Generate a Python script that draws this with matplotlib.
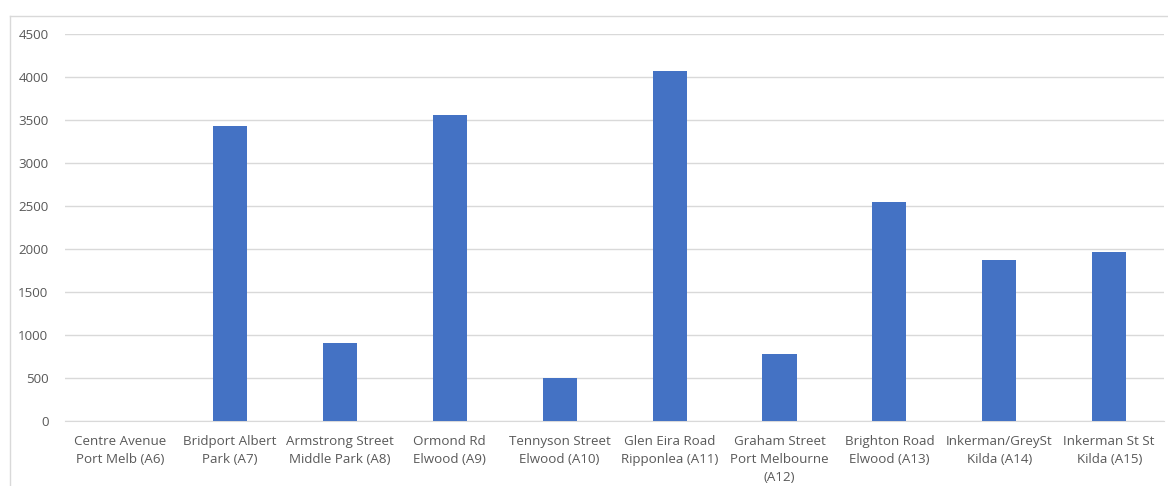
import matplotlib.pyplot as plt
from matplotlib.lines import Line2D

sites = [
    "Centre Avenue\nPort Melb (A6)",
    "Bridport Albert\nPark (A7)",
    "Armstrong Street\nMiddle Park (A8)",
    "Ormond Rd\nElwood (A9)",
    "Tennyson Street\nElwood (A10)",
    "Glen Eira Road\nRipponlea (A11)",
    "Graham Street\nPort Melbourne\n(A12)",
    "Brighton Road\nElwood (A13)",
    "Inkerman/GreySt\nKilda (A14)",
    "Inkerman St St\nKilda (A15)",
]
counts = [0, 3435, 905, 3560, 500, 4070, 780, 2545, 1870, 1965]
yticks = list(range(0, 4501, 500))

plt.rcParams["font.family"] = ["Open Sans", "DejaVu Sans"]
fig = plt.figure(figsize=(11.68, 4.86), dpi=100)
ax = fig.add_axes([0.0557, 0.134, 0.941, 0.796])

x = range(len(sites))
ax.bar(x, counts, width=0.31, color="#4472C4", zorder=3)
ax.set_xlim(-0.5, len(sites) - 0.5)
ax.set_ylim(0, 4500)
ax.set_yticks(yticks)
ax.set_xticks(list(x))
ax.set_xticklabels(sites, fontsize=9.6, color="#595959", linespacing=1.5)
ax.tick_params(axis="y", labelsize=9.6, labelcolor="#595959", length=0, pad=12)
ax.tick_params(axis="x", length=0, pad=10)
ax.grid(axis="y", color="#D9D9D9", linewidth=1, zorder=0)
for s in ["top", "right", "left"]:
    ax.spines[s].set_visible(False)
ax.spines["bottom"].set_color("#D9D9D9")

# outer chart frame
fig.add_artist(Line2D([10 / 1168, 10 / 1168], [0, 1 - 16 / 486], color="#D9D9D9", lw=1, transform=fig.transFigure))
fig.add_artist(Line2D([10 / 1168, 1], [1 - 16 / 486, 1 - 16 / 486], color="#D9D9D9", lw=1, transform=fig.transFigure))

fig.savefig("out.png", dpi=100)
